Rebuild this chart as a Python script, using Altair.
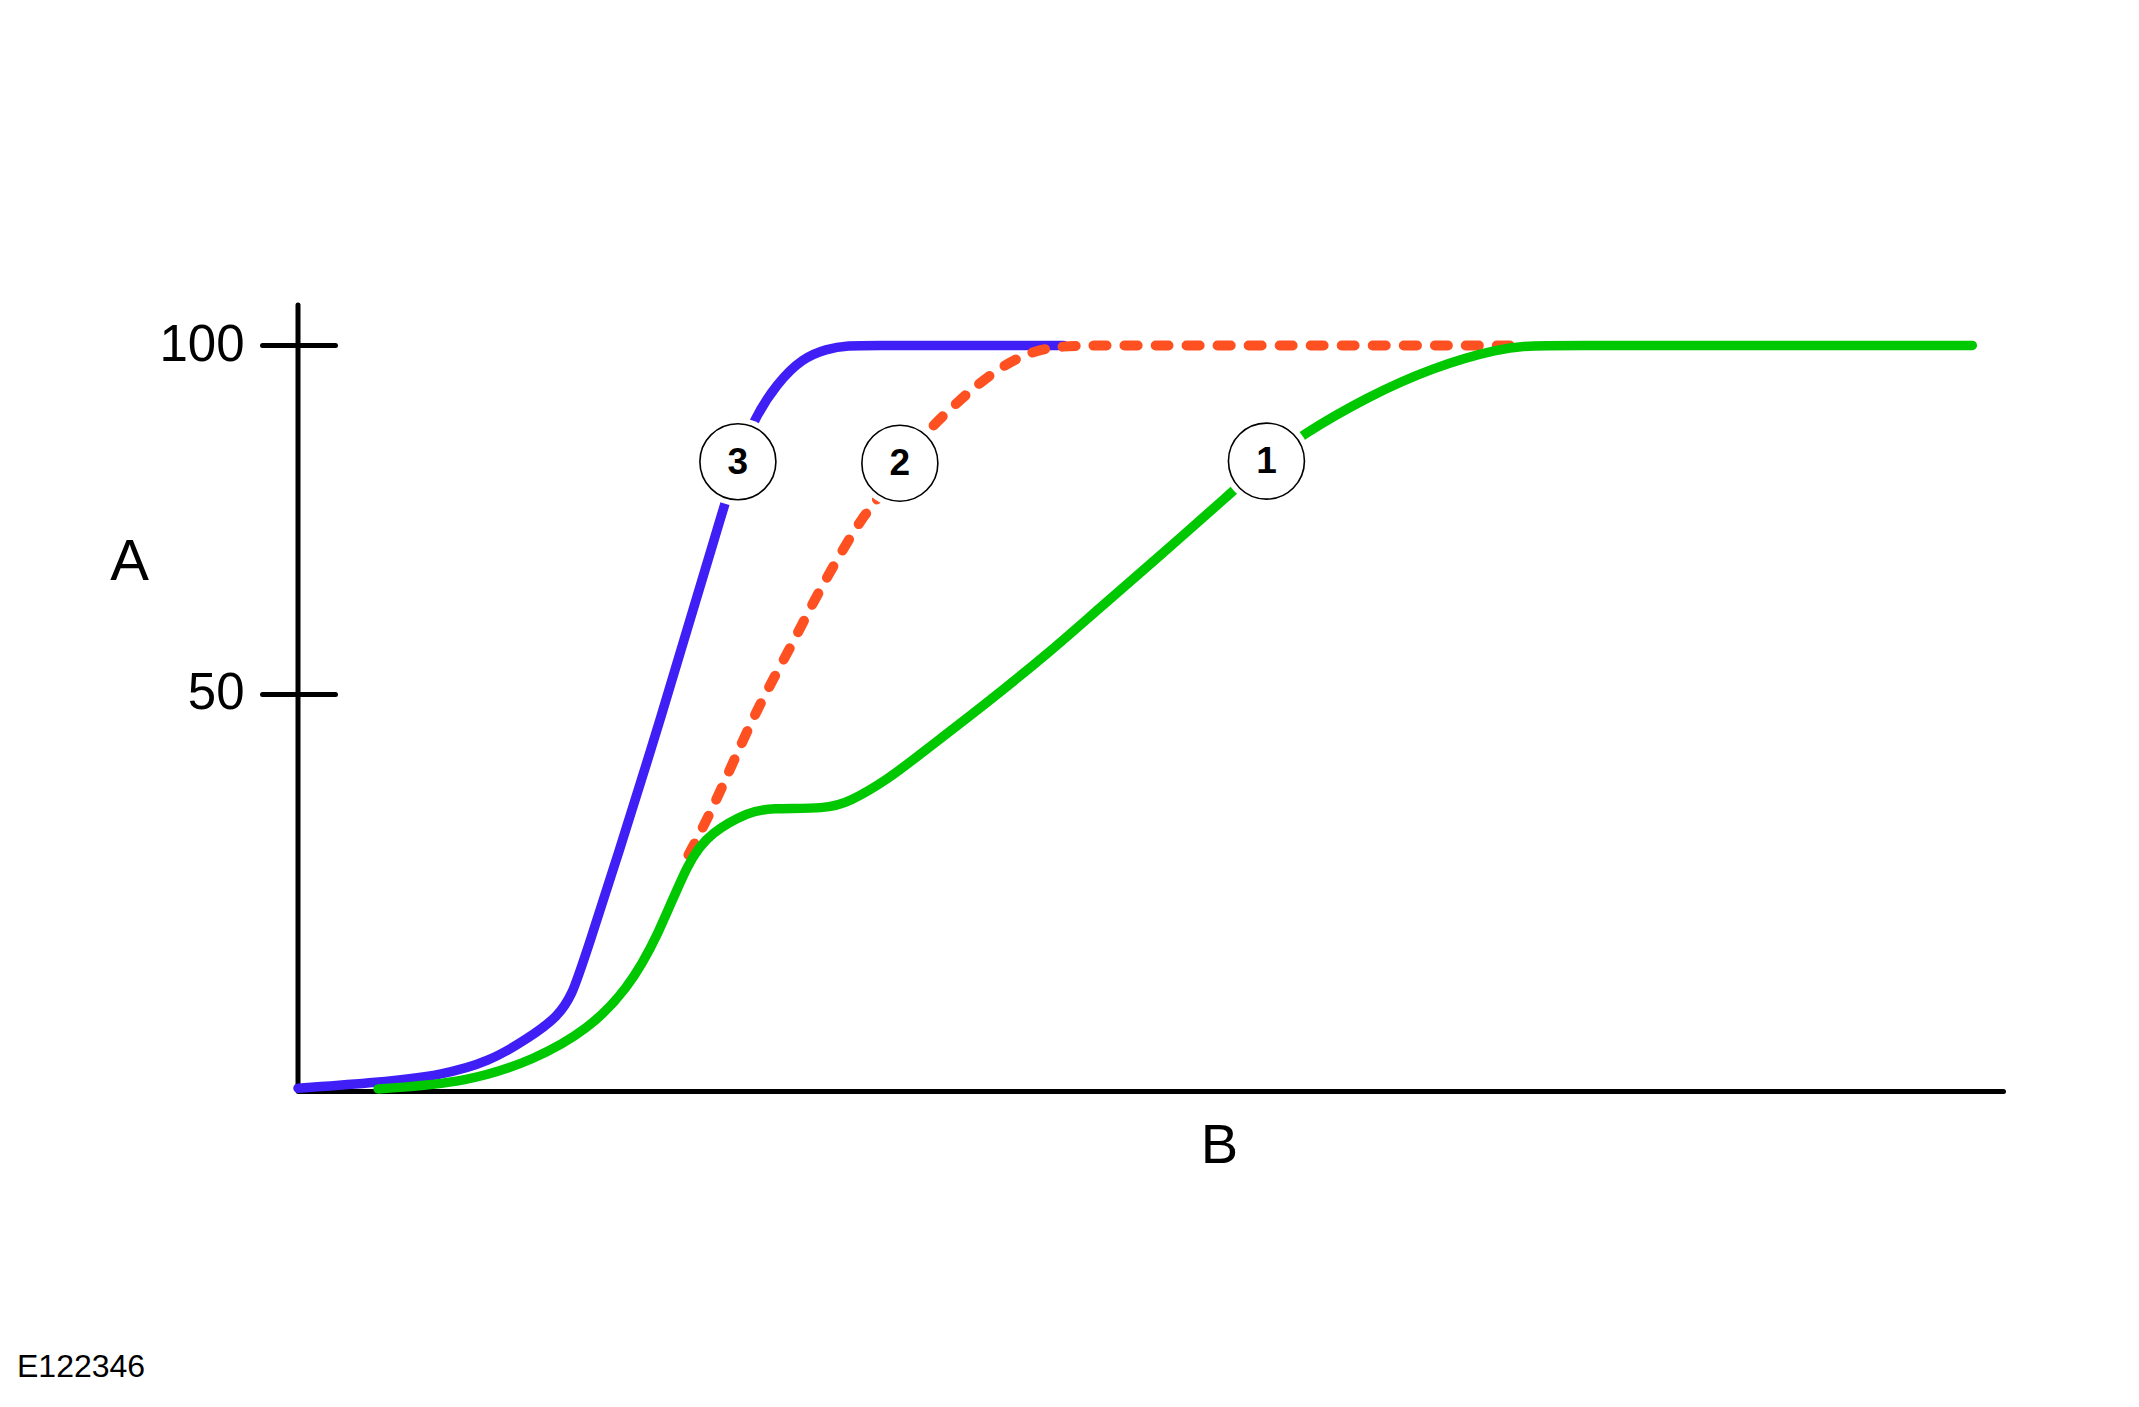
import altair as alt
import pandas as pd

# curve 3 (blue, solid)
blue_b = [0, 4.7, 8.5, 11.2, 13.4, 15.3, 16.1, 16.6, 20.7, 25.0, 25.8, 26.7, 28.1, 29.6, 31.0, 32.2,
          34.0, 37.0, 41.0, 44.9]
blue_a = [-6.6, -5.8, -4.7, -2.8, 0.4, 3.7, 7.1, 10.4, 41.6, 77.1, 83.3, 89.3, 94.6, 98.2, 99.5, 100,
          100, 100, 100, 100]

# curve 2 (orange, dashed) - branches off curve 1
orange_b = [22.9, 24.2, 25.5, 27.1, 28.9, 30.2, 31.6, 33.1, 34.0, 35.3, 37.1, 38.7, 40.2, 42.2, 44.1,
            46.0, 50.0, 56.0, 63.0, 71.1]
orange_a = [26.9, 32.9, 40.1, 48.7, 56.7, 63.1, 69.2, 75.4, 77.8, 83.1, 88.2, 91.9, 95.1, 98.4, 99.8,
            100, 100, 100, 100, 100]

# curve 1 (green, solid)
green_b = [4.7, 9.9, 13.9, 17.0, 19.3, 21.1, 22.9, 24.2, 26.5, 27.6, 31.0, 32.3, 34.7, 36.3, 40.2,
           44.1, 47.0, 50.0, 54.8, 56.8, 58.9, 62.7, 66.6, 70.5, 72.4, 75.0, 80.0, 86.0, 92.0, 98.2]
green_a = [-6.7, -5.8, -2.5, 1.8, 7.5, 15.1, 26.2, 30.1, 33.1, 33.6, 33.5, 34.4, 37.9, 41.0, 48.3,
           56.0, 62.3, 68.6, 79.0, 83.4, 87.2, 92.6, 96.9, 99.6, 100, 100, 100, 100, 100, 100]

# numbered callouts
callout_ids = ["1", "2", "3"]
callout_b = [56.8, 35.3, 25.8]
callout_a = [83.4, 83.1, 83.3]

tick_values = [50, 100]
x_title = "B"
y_title = "A"
figure_code = "E122346"

FONT = "Liberation Sans"
b_domain = [0, 100]
a_domain = [-7, 105.8]

x_scale = alt.Scale(domain=b_domain, nice=False, zero=False)
y_scale = alt.Scale(domain=a_domain, nice=False, zero=False)

x_axis = alt.Axis(
    title=x_title, domain=True, domainColor="black", domainWidth=5, domainCap="round",
    ticks=False, labels=False, grid=False,
    titleFont=FONT, titleFontSize=56, titleFontWeight="normal", titleColor="black",
    titleX=921, titleY=54, titleAlign="center", titleBaseline="middle",
)
y_axis = alt.Axis(
    title=y_title, values=tick_values, domain=False, grid=False, offset=-37,
    tickSize=73, tickWidth=5, tickColor="black", tickCap="round",
    labelFont=FONT, labelFontSize=51, labelColor="black", labelPadding=18,
    titleFont=FONT, titleFontSize=58, titleFontWeight="normal", titleColor="black",
    titleAngle=0, titleX=-206, titleY=257, titleAlign="center", titleBaseline="middle",
)


def xy(b="b:Q", a="a:Q"):
    return dict(
        x=alt.X(b, scale=x_scale, axis=x_axis),
        y=alt.Y(a, scale=y_scale, axis=y_axis),
    )


# vertical axis line, drawn in data space
axis_df = pd.DataFrame({"b": [b_domain[0]], "a0": [a_domain[0]], "a1": [a_domain[1]]})
y_line = alt.Chart(axis_df).mark_rule(color="black", strokeWidth=5, strokeCap="round").encode(
    y2="a1:Q", **xy(a="a0:Q")
)


def curve(xs, ys, **mark):
    df = pd.DataFrame({"b": xs, "a": ys})
    return alt.Chart(df).mark_line(interpolate="basis", strokeCap="round", **mark).encode(**xy())


blue = curve(blue_b, blue_a, color="#3f1ff5", strokeWidth=9.5)
orange = curve(orange_b, orange_a, color="#ff5022", strokeWidth=10, strokeDash=[13, 18])
green = curve(green_b, green_a, color="#00c800", strokeWidth=9.5)

callouts = pd.DataFrame({"id": callout_ids, "b": callout_b, "a": callout_a})
c_base = alt.Chart(callouts).encode(**xy())
halo = c_base.mark_point(shape="circle", filled=True, fill="white", color="white",
                         opacity=1, strokeWidth=0, size=7744)
ring = c_base.mark_point(shape="circle", filled=True, fill="white", stroke="black",
                         opacity=1, strokeWidth=1.6, size=5776)
numbers = c_base.mark_text(font=FONT, fontWeight="bold", fontSize=37, color="black",
                           align="center", baseline="middle", dy=1).encode(text="id:N")

caption = alt.Chart(pd.DataFrame({"t": [figure_code]})).mark_text(
    font=FONT, fontSize=32, color="black", align="left", baseline="middle"
).encode(x=alt.value(-281), y=alt.value(1062), text="t:N")

chart = alt.layer(y_line, blue, orange, green, halo, ring, numbers, caption).properties(
    width=1705,
    height=786,
    padding={"left": 290, "top": 297, "right": 128, "bottom": 300},
    autosize=alt.AutoSizeParams(type="none"),
    background="white",
).configure_view(strokeWidth=0)

chart.save("out.html", embed_options={"renderer": "svg", "actions": False})
